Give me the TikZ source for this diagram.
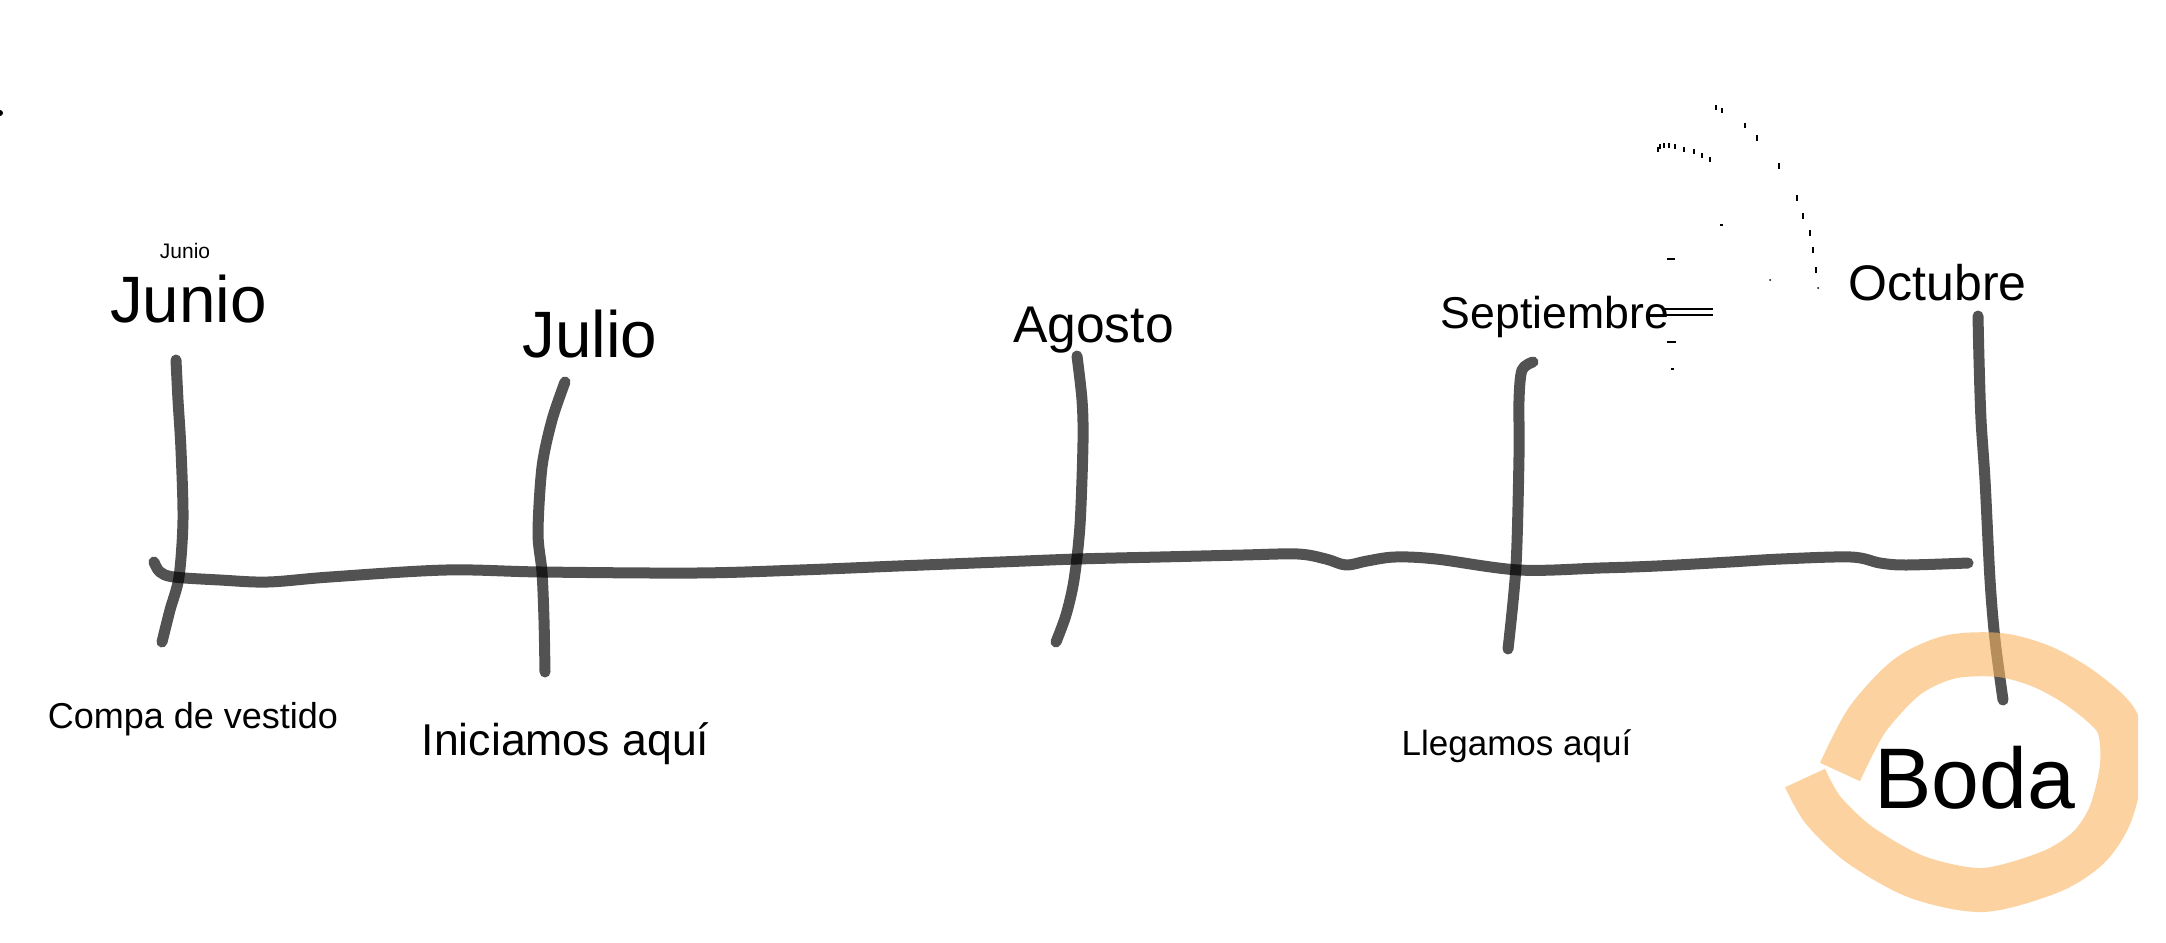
\documentclass[tikz,border=0pt]{standalone}
\usepackage{fontspec}
\setmainfont{Liberation Sans}
\newcommand\fsz[1]{\fontsize{#1}{#1}\selectfont}
\definecolor{ringc}{RGB}{250,183,97}
\begin{document}
\begin{tikzpicture}[x=0.5pt,y=-0.5pt,
  pencil/.style={draw=black,draw opacity=0.68,line width=5.5pt,line cap=round,line join=round},
  lbl/.style={inner sep=0pt,anchor=base,text=black},
  scrap/.style={draw=black,line width=0.6pt}]
\useasboundingbox[fill=white] (0,0) rectangle (2166,942);

% time line
\draw[pencil] plot[smooth,tension=0.55] coordinates {(154,562) (160,572) (174,577) (220,580) (268,582) (330,577) (446,570) (542,572) (696,573) (800,570) (898,566) (1000,562) (1077,559) (1160,557) (1243,555) (1298,554) (1326,559) (1346,565) (1367,561) (1395,557) (1436,559) (1519,570) (1600,568) (1657,566) (1730,562) (1781,559) (1851,557) (1880,563) (1906,565) (1968,563)};

% ticks
\draw[pencil] plot[smooth] coordinates {(176,360) (178,400) (181,450) (183,520) (179,577) (170,610) (162,642)};
\draw[pencil] plot[smooth] coordinates {(565,382) (552,420) (542,467) (538,533) (542,572) (544,620) (545,672)};
\draw[pencil] plot[smooth] coordinates {(1077,356) (1082,400) (1083,442) (1080,525) (1074,580) (1066,615) (1056,642)};
\draw[pencil] plot[smooth] coordinates {(1533,362) (1522,370) (1519,400) (1519,456) (1516,566) (1508,649)};
\draw[pencil] plot[smooth] coordinates {(1978,316) (1979,360) (1981,420) (1985,480) (1990,580) (1995,640) (2003,700)};

% ring around Boda
\begin{scope}
\clip (0,0) rectangle (2138,942);
\draw[draw=ringc,draw opacity=0.6,line width=22pt,line cap=butt,line join=round]
  plot[smooth] coordinates {(1840,772) (1867,720) (1907,677) (1950,657) (2000,655) (2043,667) (2083,690) (2117,722) (2122,765) (2110,815) (2088,848) (2050,872) (1983,890) (1917,877) (1860,845) (1823,810) (1805,778)};
\end{scope}

% labels
\node[lbl,font=\fsz{10.5pt}] (junios) at (185,258) {Junio};
\node[lbl,font=\fsz{32.8pt}] (junio) at (188.5,322) {Junio};
\node[lbl,font=\fsz{32.8pt}] (julio) at (590,357) {Julio};
\node[lbl,font=\fsz{25.8pt}] (agosto) at (1093.5,342) {Agosto};
\node[lbl,font=\fsz{22.3pt}] (sept) at (1555,328) {Septiembre};
\node[lbl,font=\fsz{25pt}] (oct) at (1937.5,300) {Octubre};
\node[lbl,font=\fsz{18pt}] (compa) at (193,728) {Compa de vestido};
\node[lbl,font=\fsz{22.3pt}] (inic) at (565.5,755) {Iniciamos aquí};
\node[lbl,font=\fsz{17.5pt}] (lleg) at (1516.5,755) {Llegamos aquí};
\node[lbl,font=\fsz{43pt}] (boda) at (1975,808) {Boda};

% stray marks
\draw[scrap] (1665,309) -- (1713,309);
\draw[scrap] (1665,315) -- (1713,315);
\draw[scrap] (1667,342) -- (1676,342);
\draw[scrap] (1671,369) -- (1674,369);
\draw[scrap] (1667,259) -- (1675,259);
\draw[scrap] (1720,225) -- (1723,225);
\draw[scrap] (1716,105) -- (1716,110);
\draw[scrap] (1722,108) -- (1722,113);
\draw[scrap] (1745,123) -- (1745,128);
\draw[scrap] (1757,135) -- (1757,141);
\foreach \x/\y in {1658/147,1660/144,1664/143,1669/143,1675/144,1684/147,1694/149,1702/153,1710/157}
  \draw[scrap] (\x,\y) -- (\x,\y+5);
\draw[draw=black,line width=1.2pt] (1779,163) -- (1779,169);
\foreach \x/\y in {1797/195,1803/213,1810/230,1813/247,1816/267}
  \draw[scrap] (\x,\y) -- (\x,\y+6);
\fill (1818,288) circle (1);
\fill (1770,280) circle (1);
\fill (0,113) circle (3);
\end{tikzpicture}
\end{document}
